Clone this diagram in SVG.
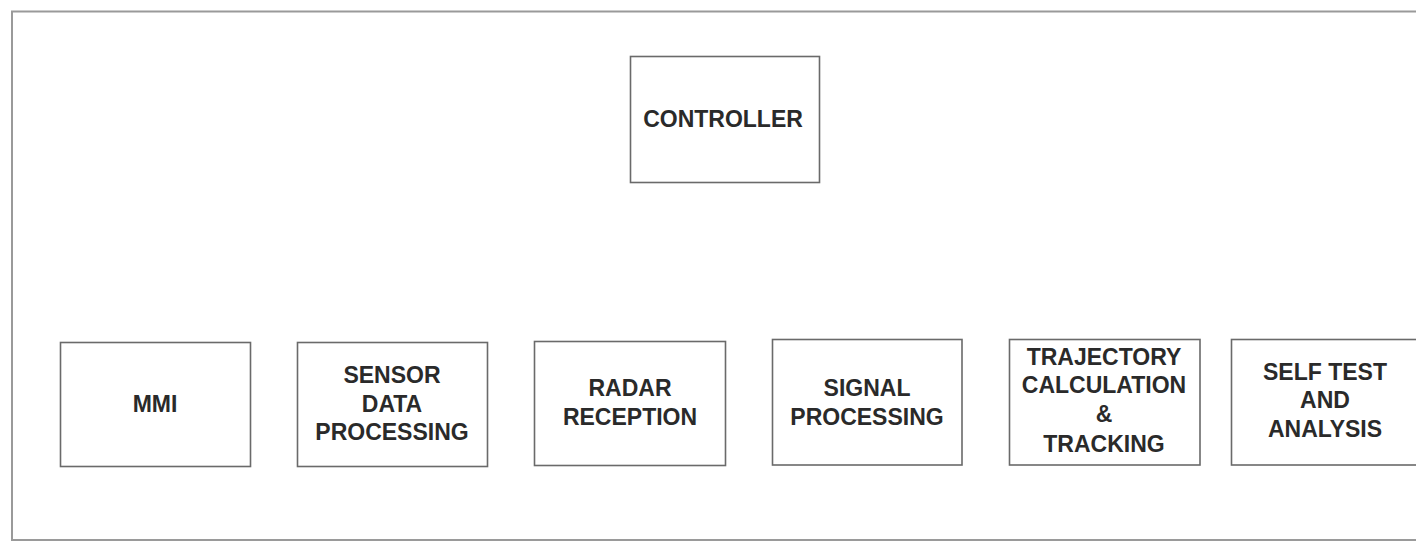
<svg xmlns="http://www.w3.org/2000/svg" width="1416" height="541" viewBox="0 0 1416 541">
<style>
.frame{fill:none;stroke:#9a9a9a;stroke-width:2}
.box{fill:#fff;stroke:#6a6a6a;stroke-width:1.6}
.t{font-family:"Liberation Sans",Arial,sans-serif;font-size:23px;font-weight:bold;fill:#2a2a2a;text-anchor:middle}
</style>
<rect x="0" y="0" width="1416" height="541" fill="#fff"/>
<path class="frame" d="M12,541 V11.5 H1416"/>
<path class="frame" d="M12,540 H1416" stroke="#bbb"/>
<g id="connectors"></g>
<g id="controller">
<rect class="box" x="630.5" y="56.5" width="189" height="126"/>
<text class="t" x="723" y="127">CONTROLLER</text>
</g>
<g id="mmi">
<rect class="box" x="60.5" y="342.5" width="190" height="124"/>
<text class="t" x="155" y="412">MMI</text>
</g>
<g id="sensor">
<rect class="box" x="297.5" y="342.5" width="190" height="124"/>
<text class="t" x="392" y="383">SENSOR</text>
<text class="t" x="392" y="411.5">DATA</text>
<text class="t" x="392" y="440">PROCESSING</text>
</g>
<g id="radar">
<rect class="box" x="534.5" y="341.5" width="191" height="124"/>
<text class="t" x="630" y="396">RADAR</text>
<text class="t" x="630" y="425">RECEPTION</text>
</g>
<g id="signal">
<rect class="box" x="772.5" y="339.5" width="189.5" height="125.5"/>
<text class="t" x="867" y="396">SIGNAL</text>
<text class="t" x="867" y="425">PROCESSING</text>
</g>
<g id="trajectory">
<rect class="box" x="1009.5" y="339.5" width="190.5" height="125.5"/>
<text class="t" x="1104" y="365">TRAJECTORY</text>
<text class="t" x="1104" y="393">CALCULATION</text>
<text class="t" x="1104" y="421.5">&amp;</text>
<text class="t" x="1104" y="451.5">TRACKING</text>
</g>
<g id="selftest">
<rect class="box" x="1231.5" y="339.5" width="192" height="125.5"/>
<text class="t" x="1325" y="380">SELF TEST</text>
<text class="t" x="1325" y="408">AND</text>
<text class="t" x="1325" y="436.5">ANALYSIS</text>
</g>
</svg>
